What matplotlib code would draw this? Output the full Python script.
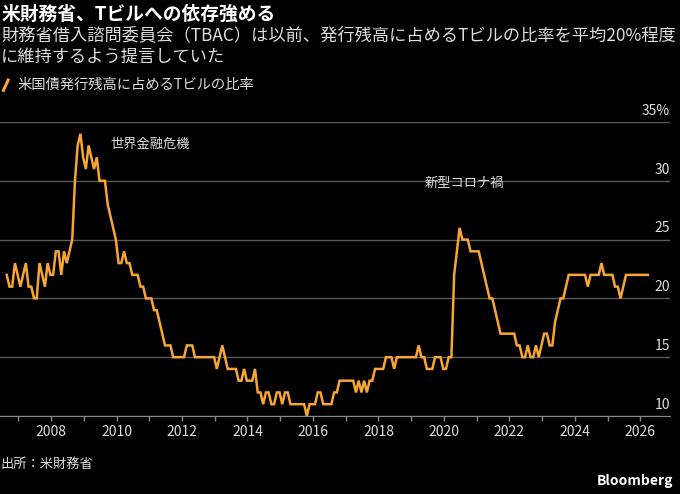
import numpy as np
import matplotlib
matplotlib.use('Agg')
import matplotlib.pyplot as plt
from matplotlib.lines import Line2D
from matplotlib.ticker import MultipleLocator

plt.rcParams['font.family'] = ['Noto Sans CJK JP', 'DejaVu Sans']

# 米国債発行残高に占めるTビルの比率（月次, %）2006年8月から
start_year = 2006 + 7.75 / 12
ratio = [
    22, 21, 21, 23, 22, 21, 22, 23, 21, 21, 20, 20,
    23, 22, 21, 23, 22, 22, 24, 24, 22, 24, 23, 24,
    25, 30, 33, 34, 32, 31, 33, 32, 31, 32, 30, 30,
    30, 28, 27, 26, 25, 23, 23, 24, 23, 23, 22, 22,
    22, 21, 21, 20, 20, 20, 19, 19, 18, 17, 16, 16,
    16, 15, 15, 15, 15, 15, 16, 16, 16, 15, 15, 15,
    15, 15, 15, 15, 15, 14, 15, 16, 15, 14, 14, 14,
    14, 13, 13, 14, 13, 13, 13, 14, 12, 12, 11, 12,
    12, 11, 11, 12, 12, 11, 12, 12, 11, 11, 11, 11,
    11, 11, 10, 11, 11, 11, 12, 12, 11, 11, 11, 11,
    12, 12, 13, 13, 13, 13, 13, 13, 12, 13, 12, 13,
    12, 13, 13, 14, 14, 14, 14, 15, 15, 15, 14, 15,
    15, 15, 15, 15, 15, 15, 15, 16, 15, 15, 14, 14,
    14, 15, 15, 15, 14, 14, 15, 15, 22, 24, 26, 25,
    25, 25, 24, 24, 24, 24, 23, 22, 21, 20, 20, 19,
    18, 17, 17, 17, 17, 17, 17, 16, 16, 15, 15, 16,
    15, 15, 16, 15, 16, 17, 17, 16, 16, 18, 19, 20,
    20, 21, 22, 22, 22, 22, 22, 22, 22, 21, 22, 22,
    22, 22, 23, 22, 22, 22, 22, 21, 21, 20, 21, 22,
    22, 22, 22, 22, 22, 22, 22, 22,
]
years = start_year + np.arange(len(ratio)) / 12

y_ticks = [10, 15, 20, 25, 30, 35]
y_labels = ['10', '15', '20', '25', '30', '35%']
x_major = list(range(2008, 2027, 2))

title = '米財務省、Tビルへの依存強める'
subtitle = ['財務省借入諮問委員会（TBAC）は以前、発行残高に占めるTビルの比率を平均20%程度',
            'に維持するよう提言していた']
legend_label = '米国債発行残高に占めるTビルの比率'
notes = [('世界金融危機', 2009.8, 33.1), ('新型コロナ禍', 2019.42, 29.8)]

bg = '#000000'
orange = '#F7A533'
grid_c = '#5a5a5a'
txt_c = '#dedede'

fig = plt.figure(figsize=(6.8, 4.94), dpi=100, facecolor=bg)
ax = fig.add_axes([0.0, 0.158, 0.985, 0.595], facecolor=bg)

ax.plot(years, ratio, color=orange, lw=1.8, solid_joinstyle='miter', zorder=3)

ax.set_xlim(2006.44, 2026.9)
ax.set_ylim(10, 35)
ax.set_yticks(y_ticks)
ax.set_yticklabels([])
ax.tick_params(axis='y', length=0)
ax.yaxis.grid(True, color=grid_c, lw=1)
for v, lab in zip(y_ticks, y_labels):
    ax.annotate(lab, xy=(1, v), xycoords=('axes fraction', 'data'),
                xytext=(0, 3), textcoords='offset points',
                ha='right', va='bottom', color=txt_c, fontsize=10)

ax.set_xticks(x_major)
ax.set_xticklabels([str(x) for x in x_major])
ax.xaxis.set_minor_locator(MultipleLocator(1))
ax.tick_params(axis='x', which='both', length=3.5, width=1, color='#888888',
               labelcolor=txt_c, labelsize=10, pad=3)
for s in ['top', 'left', 'right']:
    ax.spines[s].set_visible(False)
ax.spines['bottom'].set_color('#888888')

for label, x, y in notes:
    ax.text(x, y, label, color=txt_c, fontsize=9.5, va='center', ha='left')

fig.text(0.002, 0.971, title, color='white', fontsize=13.5, fontweight='bold', va='center')
fig.text(0.002, 0.929, subtitle[0], color=txt_c, fontsize=12.4, va='center')
fig.text(0.002, 0.886, subtitle[1], color=txt_c, fontsize=12.4, va='center')

fig.add_artist(Line2D([0.005, 0.012], [0.817, 0.838], color=orange, lw=2.2))
fig.text(0.025, 0.829, legend_label, color=txt_c, fontsize=10.3, va='center')

fig.text(0.0, 0.059, '出所：米財務省', color=txt_c, fontsize=9.5, va='center')
fig.text(0.99, 0.026, 'Bloomberg', color='white', fontsize=10, fontweight='bold',
         va='center', ha='right')

fig.savefig('out.png', dpi=100, facecolor=bg)
